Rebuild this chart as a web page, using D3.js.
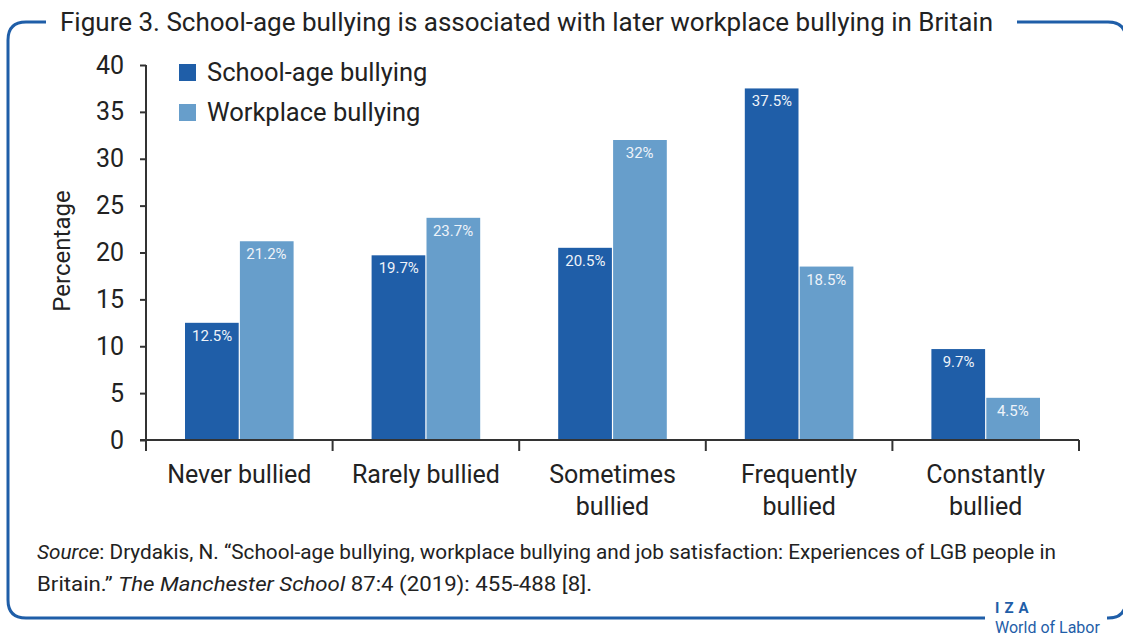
<!DOCTYPE html>
<html>
<head>
<meta charset="utf-8">
<script src="https://cdn.jsdelivr.net/npm/d3@7"></script>
<style>
  body { margin: 0; background: #fff; }
  svg text { font-family: Roboto, "Liberation Sans", sans-serif; }
</style>
</head>
<body>
<div id="chart"></div>
<script>
        // data
        var categories = ["Never bullied", "Rarely bullied", "Sometimes bullied", "Frequently bullied", "Constantly bullied"];
        var categoryLines = [["Never bullied"], ["Rarely bullied"], ["Sometimes", "bullied"], ["Frequently", "bullied"], ["Constantly", "bullied"]];
        var seriesNames = ["School-age bullying", "Workplace bullying"];
        var schoolAge = [12.5, 19.7, 20.5, 37.5, 9.7];
        var workplace = [21.2, 23.7, 32, 18.5, 4.5];
        var yTicks = [0, 5, 10, 15, 20, 25, 30, 35, 40];

        var colors = ["#1f5ea8", "#679ecb"];
        var blue = "#1f5ea8";

        var W = 1123, H = 638;
        var mLeft = 146, mRight = 1079, mTop = 65, mBottom = 440;

        var svg = d3.select("#chart")
                    .append("svg")
                    .attr("width", W)
                    .attr("height", H);

        // frame with gaps for title and logo
        var fx0 = 8, fx1 = 1126, fy0 = 22, fy1 = 618, r = 18;
        svg.append("path")
           .attr("d", "M46," + fy0 + " L" + (fx0 + r) + "," + fy0 +
                " Q" + fx0 + "," + fy0 + " " + fx0 + "," + (fy0 + r) +
                " L" + fx0 + "," + (fy1 - r) +
                " Q" + fx0 + "," + fy1 + " " + (fx0 + r) + "," + fy1 +
                " L985," + fy1)
           .attr("fill", "none").attr("stroke", blue).attr("stroke-width", 3);
        svg.append("path")
           .attr("d", "M1017," + fy0 + " L" + (fx1 - r) + "," + fy0 +
                " Q" + fx1 + "," + fy0 + " " + fx1 + "," + (fy0 + r) +
                " L" + fx1 + "," + (fy1 - r) +
                " Q" + fx1 + "," + fy1 + " " + (fx1 - r) + "," + fy1 +
                " L1107," + fy1)
           .attr("fill", "none").attr("stroke", blue).attr("stroke-width", 3);

        // title
        svg.append("text")
           .attr("x", 60).attr("y", 31)
           .attr("font-size", "25px")
           .attr("fill", "#222")
           .attr("textLength", 933)
           .attr("lengthAdjust", "spacingAndGlyphs")
           .text("Figure 3. School-age bullying is associated with later workplace bullying in Britain");

        var xScale = d3.scaleBand()
                        .domain(categories)
                        .range([mLeft, mRight])
                        .paddingInner(0)
                        .paddingOuter(0);

        var xSub = d3.scaleBand()
                        .domain([0, 1])
                        .range([39, xScale.bandwidth() - 39]);

        var yScale = d3.scaleLinear()
                        .domain([0, 40])
                        .range([mBottom, mTop]);

        // bars
        var rows = [];
        categories.forEach(function(c, i) {
            rows.push({cat: c, s: 0, v: schoolAge[i]});
            rows.push({cat: c, s: 1, v: workplace[i]});
        });

        svg.selectAll("rect.bar")
           .data(rows)
           .enter()
           .append("rect")
           .attr("class", "bar")
           .attr("x", function(d) { return xScale(d.cat) + xSub(d.s) + (d.s ? 0.6 : 0); })
           .attr("y", function(d) { return yScale(d.v); })
           .attr("width", xSub.bandwidth() - 0.6)
           .attr("height", function(d) { return mBottom - yScale(d.v); })
           .attr("fill", function(d) { return colors[d.s]; });

        svg.selectAll("text.val")
           .data(rows)
           .enter()
           .append("text")
           .attr("class", "val")
           .attr("text-anchor", "middle")
           .attr("x", function(d) { return xScale(d.cat) + xSub(d.s) + xSub.bandwidth() / 2; })
           .attr("y", function(d) { return yScale(d.v) + 18; })
           .attr("font-size", "15px")
           .attr("fill", "#eef3f9")
           .text(function(d) { return d.v + "%"; });

        // y axis
        var y_axis = d3.axisLeft(yScale)
                       .tickValues(yTicks)
                       .tickSize(6)
                       .tickPadding(16);
        var gy = svg.append("g")
            .attr("transform", "translate(" + mLeft + ",0)")
            .call(y_axis);
        gy.select(".domain").attr("d", "M0," + mTop + "V" + mBottom).attr("stroke", "#333").attr("stroke-width", 2);
        gy.selectAll(".tick line").attr("stroke", "#333").attr("stroke-width", 2);
        gy.selectAll(".tick text").attr("font-size", "25px").attr("fill", "#222")
          .attr("font-family", "Roboto, sans-serif");

        // x axis
        var x_axis = d3.axisBottom(xScale).tickSize(0).tickFormat("");
        var gx = svg.append("g")
            .attr("transform", "translate(0," + mBottom + ")")
            .call(x_axis);
        gx.select(".domain").attr("d", "M" + (mLeft - 6) + ",0H" + mRight).attr("stroke", "#333").attr("stroke-width", 2);

        var bounds = categories.map(function(c) { return xScale(c); }).concat([mRight]);
        gx.selectAll("line.sep")
          .data(bounds)
          .enter()
          .append("line")
          .attr("class", "sep")
          .attr("x1", function(d) { return d; })
          .attr("x2", function(d) { return d; })
          .attr("y1", 0).attr("y2", 11)
          .attr("stroke", "#333").attr("stroke-width", 2);

        categories.forEach(function(c, i) {
            var t = svg.append("text")
                .attr("text-anchor", "middle")
                .attr("font-size", "25px")
                .attr("fill", "#222");
            categoryLines[i].forEach(function(line, j) {
                t.append("tspan")
                 .attr("x", xScale(c) + xScale.bandwidth() / 2)
                 .attr("y", 483 + j * 32)
                 .text(line);
            });
        });

        // y label
        svg.append("text")
           .attr("transform", "translate(70,251) rotate(-90)")
           .attr("text-anchor", "middle")
           .attr("font-size", "24px")
           .attr("fill", "#222")
           .text("Percentage");

        // legend
        seriesNames.forEach(function(n, i) {
            svg.append("rect")
               .attr("x", 179).attr("y", 64 + i * 40)
               .attr("width", 17).attr("height", 17)
               .attr("fill", colors[i]);
            svg.append("text")
               .attr("x", 207).attr("y", 81 + i * 40)
               .attr("font-size", "25.5px")
               .attr("fill", "#222")
               .text(n);
        });

        // source
        var src = svg.append("g").attr("font-size", "20px").attr("fill", "#222");
        var l1 = src.append("text").attr("x", 37).attr("y", 559)
                    .attr("textLength", 1019).attr("lengthAdjust", "spacingAndGlyphs");
        l1.append("tspan").attr("font-style", "italic").text("Source");
        l1.append("tspan").text(": Drydakis, N. \u201cSchool-age bullying, workplace bullying and job satisfaction: Experiences of LGB people in");
        var l2 = src.append("text").attr("x", 37).attr("y", 591)
                    .attr("textLength", 555).attr("lengthAdjust", "spacingAndGlyphs");
        l2.append("tspan").text("Britain.\u201d ");
        l2.append("tspan").attr("font-style", "italic").text("The Manchester School");
        l2.append("tspan").text(" 87:4 (2019): 455-488 [8].");

        // logo
        svg.append("text")
           .attr("x", 995).attr("y", 613)
           .attr("font-size", "15px").attr("font-weight", "bold")
           .attr("letter-spacing", "5px")
           .attr("fill", blue)
           .text("IZA");
        svg.append("text")
           .attr("x", 995).attr("y", 633)
           .attr("font-size", "16px")
           .attr("fill", blue)
           .text("World of Labor");
</script>
</body>
</html>
